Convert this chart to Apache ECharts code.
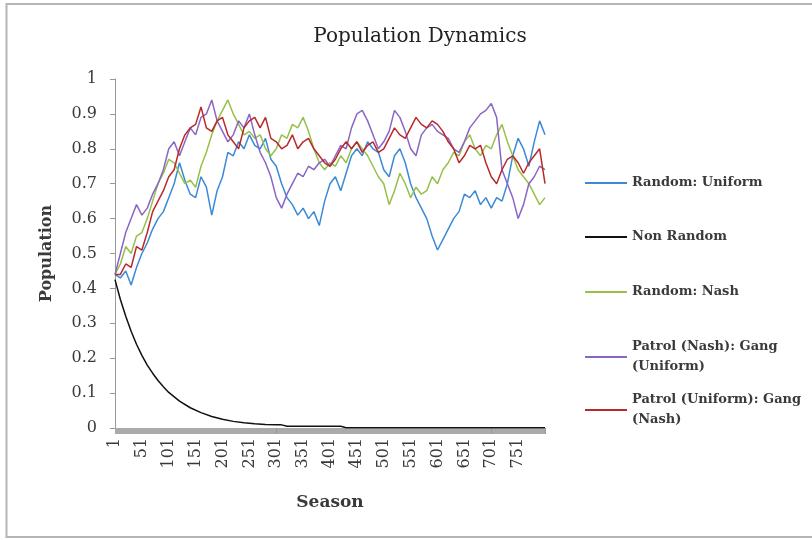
<!DOCTYPE html>
<html>
<head>
<meta charset="utf-8">
<script src="https://cdn.jsdelivr.net/npm/echarts@6/dist/echarts.min.js"></script>
<style>html,body{margin:0;padding:0;background:#fff}#c{width:812px;height:540px}</style>
</head>
<body>
<div id="c"></div>
<script>
// Seasons sampled every 10 seasons
const seasons = [1,11,21,31,41,51,61,71,81,91,101,111,121,131,141,151,161,171,181,191,201,211,221,231,241,251,261,271,281,291,301,311,321,331,341,351,361,371,381,391,401,411,421,431,441,451,461,471,481,491,501,511,521,531,541,551,561,571,581,591,601,611,621,631,641,651,661,671,681,691,701,711,721,731,741,751,761,771,781,791,801];

const randomUniform = [0.44,0.43,0.45,0.41,0.46,0.50,0.53,0.57,0.60,0.62,0.66,0.70,0.76,0.71,0.67,0.66,0.72,0.69,0.61,0.68,0.72,0.79,0.78,0.82,0.80,0.84,0.81,0.80,0.83,0.77,0.75,0.70,0.66,0.64,0.61,0.63,0.60,0.62,0.58,0.65,0.70,0.72,0.68,0.73,0.78,0.80,0.78,0.82,0.80,0.79,0.74,0.72,0.78,0.80,0.76,0.70,0.66,0.63,0.60,0.55,0.51,0.54,0.57,0.60,0.62,0.67,0.66,0.68,0.64,0.66,0.63,0.66,0.65,0.70,0.78,0.83,0.80,0.75,0.82,0.88,0.84];

const randomNash = [0.44,0.47,0.52,0.50,0.55,0.56,0.60,0.65,0.70,0.73,0.77,0.76,0.73,0.70,0.71,0.69,0.75,0.79,0.84,0.88,0.91,0.94,0.90,0.87,0.84,0.85,0.83,0.84,0.80,0.78,0.80,0.84,0.83,0.87,0.86,0.89,0.85,0.80,0.76,0.74,0.76,0.75,0.78,0.76,0.80,0.82,0.80,0.78,0.75,0.72,0.70,0.64,0.68,0.73,0.70,0.66,0.69,0.67,0.68,0.72,0.70,0.74,0.76,0.79,0.78,0.82,0.84,0.80,0.78,0.81,0.80,0.84,0.87,0.82,0.78,0.74,0.72,0.70,0.67,0.64,0.66];

const patrolNashGangUniform = [0.44,0.50,0.56,0.60,0.64,0.61,0.63,0.67,0.70,0.74,0.80,0.82,0.78,0.82,0.86,0.84,0.89,0.90,0.94,0.88,0.85,0.82,0.84,0.88,0.86,0.90,0.84,0.79,0.76,0.72,0.66,0.63,0.67,0.70,0.73,0.72,0.75,0.74,0.76,0.77,0.75,0.78,0.81,0.80,0.86,0.90,0.91,0.88,0.84,0.80,0.82,0.85,0.91,0.89,0.85,0.80,0.78,0.84,0.86,0.87,0.85,0.84,0.83,0.80,0.79,0.82,0.86,0.88,0.90,0.91,0.93,0.89,0.74,0.70,0.66,0.60,0.64,0.70,0.72,0.75,0.74];

const patrolUniformGangNash = [0.44,0.44,0.47,0.46,0.52,0.51,0.56,0.62,0.65,0.68,0.72,0.74,0.80,0.84,0.86,0.87,0.92,0.86,0.85,0.88,0.89,0.84,0.82,0.80,0.86,0.88,0.89,0.86,0.89,0.83,0.82,0.80,0.81,0.84,0.80,0.82,0.83,0.80,0.78,0.76,0.75,0.77,0.80,0.82,0.80,0.82,0.79,0.81,0.82,0.79,0.80,0.83,0.86,0.84,0.83,0.86,0.89,0.87,0.86,0.88,0.87,0.85,0.82,0.80,0.76,0.78,0.81,0.80,0.81,0.76,0.72,0.70,0.74,0.77,0.78,0.76,0.73,0.76,0.78,0.80,0.70];

// Non Random series (smooth decay), sampled separately
const nonRandomSeasons = [1,11,21,31,41,51,61,71,81,91,101,121,141,161,181,201,221,241,261,281,301,311,321,361,401,421,431,481,601,801];
const nonRandom = [0.425,0.368,0.320,0.277,0.240,0.208,0.180,0.157,0.136,0.118,0.102,0.077,0.058,0.044,0.033,0.025,0.019,0.015,0.012,0.010,0.009,0.009,0.005,0.005,0.005,0.005,0.001,0.001,0.001,0.001];

const seriesNames = ['Random: Uniform','Non Random','Random: Nash','Patrol (Nash): Gang\n(Uniform)','Patrol (Uniform): Gang\n(Nash)'];
const seriesColors = ['#3b8ad6','#111111','#97c04a','#8a66c4','#b9282b'];
const legendTops = [168,222,277,332,385];

function pairs(xs, ys){ return xs.map((x,i)=>[x, ys[i]]); }

const seriesData = [
  pairs(seasons, randomUniform),
  pairs(nonRandomSeasons, nonRandom),
  pairs(seasons, randomNash),
  pairs(seasons, patrolNashGangUniform),
  pairs(seasons, patrolUniformGangNash)
];

const FONT = 'DejaVu Serif';
const TXT = '#3a3a3a';

const chart = echarts.init(document.getElementById('c'), null, {renderer:'canvas'});
chart.setOption({
  animation:false,
  backgroundColor:'#fff',
  title:{
    text:'Population Dynamics', left:415, top:22, textAlign:'center',
    textStyle:{fontFamily:FONT, fontSize:20, fontWeight:'normal', color:'#222'}
  },
  legend: seriesNames.map((n,i)=>({
    data:[n], left:580, top:legendTops[i], orient:'vertical',
    icon:'rect', itemWidth:42, itemHeight:2, itemGap:0,
    textStyle:{fontFamily:FONT, fontSize:13, fontWeight:'bold', color:TXT, lineHeight:20}
  })),
  grid:{left:115, right:267, top:79, bottom:112, containLabel:false},
  xAxis:{
    type:'value', min:1, max:801, interval:50,
    name:'Season', nameLocation:'middle', nameGap:66,
    nameTextStyle:{fontFamily:FONT, fontSize:17, color:TXT, fontWeight:'bold'},
    axisLine:{show:true, lineStyle:{color:'#999', width:1}},
    axisTick:{show:true, length:6, lineStyle:{color:'#999'}},
    minorTick:{show:true, splitNumber:50, length:6, lineStyle:{color:'#aaa'}},
    splitLine:{show:false},
    axisLabel:{rotate:90, margin:10, showMaxLabel:false, fontFamily:FONT, fontSize:16, color:TXT}
  },
  yAxis:{
    type:'value', min:0, max:1, interval:0.1,
    name:'Population', nameLocation:'middle', nameGap:60, nameRotate:90,
    nameTextStyle:{fontFamily:FONT, fontSize:16, color:TXT, fontWeight:'bold'},
    axisLine:{show:true, lineStyle:{color:'#999', width:1}},
    axisTick:{show:true, length:5, lineStyle:{color:'#999'}},
    splitLine:{show:false},
    axisLabel:{margin:18, fontFamily:FONT, fontSize:16, color:TXT}
  },
  graphic:[{
    type:'rect', shape:{x:6.5, y:4, width:900, height:533},
    style:{fill:'none', stroke:'#b5b5b5', lineWidth:2}, silent:true, z:-10
  }],
  series: seriesNames.map((n,i)=>({
    name:n, type:'line', data:seriesData[i], showSymbol:false, symbol:'none',
    color:seriesColors[i], lineStyle:{width:1.5, color:seriesColors[i]}
  }))
});
</script>
</body>
</html>
